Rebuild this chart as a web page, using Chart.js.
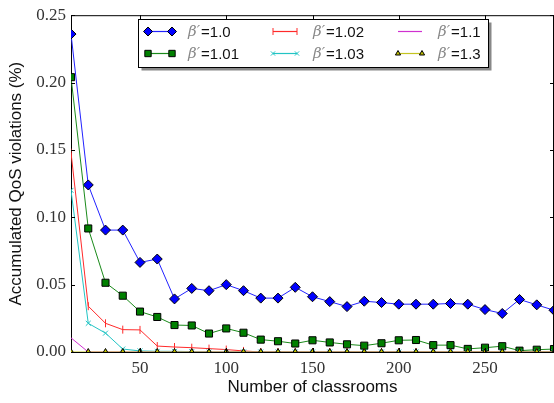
<!DOCTYPE html>
<html>
<head>
<meta charset="utf-8">
<script src="https://cdn.jsdelivr.net/npm/chart.js@4/dist/chart.umd.min.js"></script>
<style>
  html, body { margin: 0; padding: 0; background: #fff; overflow: hidden; }
  #wrap { width: 560px; height: 403px; }
</style>
</head>
<body>
<div id="wrap"><canvas id="chart"></canvas></div>
<script>
const classrooms = [10, 20, 30, 40, 50, 60, 70, 80, 90, 100, 110, 120, 130, 140, 150,
  160, 170, 180, 190, 200, 210, 220, 230, 240, 250, 260, 270, 280, 290];

const beta100 = [0.236, 0.124, 0.0905, 0.0905, 0.0665, 0.069, 0.0394, 0.0472, 0.0455, 0.050,
  0.0455, 0.040, 0.040, 0.048, 0.041, 0.0374, 0.0337, 0.0377, 0.0367, 0.0355,
  0.0355, 0.0355, 0.036, 0.0355, 0.0315, 0.0286, 0.039, 0.035, 0.031];
const beta101 = [0.204, 0.0917, 0.0514, 0.0418, 0.030, 0.026, 0.020, 0.0197, 0.0137, 0.0175,
  0.0143, 0.0092, 0.008, 0.0063, 0.0087, 0.0071, 0.0057, 0.0047, 0.0065, 0.0087,
  0.0089, 0.0051, 0.0051, 0.0023, 0.0032, 0.0043, 0.001, 0.0017, 0.0022];
const beta102 = [0.148, 0.034, 0.0213, 0.0166, 0.0164, 0.0044, 0.0037, 0.0032, 0.0025, 0.0018,
  0.0008, 0, 0, 0, 0, 0, 0, 0, 0, 0, 0, 0, 0, 0, 0, 0, 0, 0, 0];
const beta103 = [0.120, 0.0213, 0.014, 0.0022, 0.0008, 0.0005, 0.0005, 0.0003, 0, 0,
  0, 0, 0, 0, 0, 0, 0, 0, 0, 0, 0, 0, 0, 0, 0, 0, 0, 0, 0];
const beta110 = [0.0105, 0, 0, 0, 0, 0, 0, 0, 0, 0, 0, 0, 0, 0, 0, 0, 0, 0, 0, 0,
  0, 0, 0, 0, 0, 0, 0, 0, 0];
const beta130 = [0, 0, 0, 0, 0, 0, 0, 0, 0, 0, 0, 0, 0, 0, 0, 0, 0, 0, 0, 0,
  0, 0, 0, 0, 0, 0, 0, 0, 0];

const seriesLabels = ["1.0", "1.01", "1.02", "1.03", "1.1", "1.3"];
const xTicks = [50, 100, 150, 200, 250];
const yTicks = [0, 0.05, 0.10, 0.15, 0.20, 0.25];

const styles = [
  { color: "#2222ff", fill: "#0000ff", pointStyle: "rectRot", radius: 5, rotation: 0 },
  { color: "#1a8a1a", fill: "#008000", pointStyle: "rect", radius: 5, rotation: 0 },
  { color: "#ff2a2a", fill: "#ff0000", pointStyle: "line", radius: 4, rotation: 90 },
  { color: "#22c4c4", fill: "#00bfbf", pointStyle: "crossRot", radius: 3.5, rotation: 0 },
  { color: "#d030d0", fill: "#bf00bf", pointStyle: false, radius: 0, rotation: 0 },
  { color: "#c4c420", fill: "#bfbf00", pointStyle: "triangle", radius: 3.5, rotation: 0 }
];
const allValues = [beta100, beta101, beta102, beta103, beta110, beta130];

const datasets = allValues.map((vals, i) => {
  const s = styles[i];
  const markerEdge = (s.pointStyle === "line" || s.pointStyle === "crossRot") ? s.color : "#000";
  return {
    label: "β′=" + seriesLabels[i],
    data: classrooms.map((x, j) => ({ x: x, y: vals[j] })),
    borderColor: s.color,
    backgroundColor: s.fill,
    borderWidth: 1,
    pointStyle: s.pointStyle,
    pointRadius: s.radius,
    pointRotation: s.rotation,
    pointBackgroundColor: s.fill,
    pointBorderColor: markerEdge,
    pointBorderWidth: 1,
    tension: 0,
    clip: 0,
    order: allValues.length - i
  };
});

// matplotlib-style frame: top/right spines and inward ticks
const framePlugin = {
  id: "frame",
  afterDraw(chart) {
    const { ctx, chartArea: a, scales } = chart;
    ctx.save();
    ctx.strokeStyle = "#000";
    ctx.lineWidth = 1;
    ctx.beginPath();
    ctx.moveTo(a.left, a.top + 0.5);
    ctx.lineTo(a.right, a.top + 0.5);
    ctx.moveTo(a.right - 0.5, a.top);
    ctx.lineTo(a.right - 0.5, a.bottom);
    xTicks.forEach(v => {
      const px = Math.round(scales.x.getPixelForValue(v)) + 0.5;
      ctx.moveTo(px, a.top); ctx.lineTo(px, a.top + 4);
      ctx.moveTo(px, a.bottom); ctx.lineTo(px, a.bottom - 4);
    });
    yTicks.forEach(v => {
      const py = Math.round(scales.y.getPixelForValue(v)) + 0.5;
      ctx.moveTo(a.left, py); ctx.lineTo(a.left + 4, py);
      ctx.moveTo(a.right, py); ctx.lineTo(a.right - 4, py);
    });
    ctx.stroke();
    ctx.restore();
  }
};

// legend box laid out in columns like the original
const legendPlugin = {
  id: "colLegend",
  afterDraw(chart) {
    const ctx = chart.ctx;
    const box = { x: 138.5, y: 19.5, w: 350, h: 48 };
    ctx.save();
    ctx.fillStyle = "#888";
    ctx.fillRect(box.x + 3, box.y + 3, box.w, box.h);
    ctx.fillStyle = "#fff";
    ctx.fillRect(box.x, box.y, box.w, box.h);
    ctx.strokeStyle = "#000";
    ctx.lineWidth = 1;
    ctx.strokeRect(box.x, box.y, box.w, box.h);

    const colX = [148, 273, 398];
    const rowY = [31.5, 53.5];
    chart.data.datasets.forEach((ds, i) => {
      const col = Math.floor(i / 2), row = i % 2;
      const x0 = colX[col], y = rowY[row];
      ctx.strokeStyle = ds.borderColor;
      ctx.lineWidth = 1.2;
      ctx.beginPath();
      ctx.moveTo(x0, y);
      ctx.lineTo(x0 + 24, y);
      ctx.stroke();
      if (ds.pointStyle) {
        [x0, x0 + 24].forEach(px => {
          ctx.fillStyle = ds.pointBackgroundColor;
          ctx.strokeStyle = ds.pointBorderColor;
          ctx.lineWidth = 1;
          Chart.helpers.drawPoint(ctx, {
            pointStyle: ds.pointStyle,
            rotation: ds.pointRotation,
            radius: ds.pointStyle === "triangle" ? 3 : ds.pointRadius - 0.5,
            borderWidth: 1
          }, px, y);
        });
      }
      let tx = x0 + 40;
      ctx.textBaseline = "middle";
      ctx.textAlign = "left";
      ctx.fillStyle = "#888";
      ctx.font = "italic 15px 'DejaVu Serif'";
      ctx.fillText("β′", tx, y + 1);
      tx += ctx.measureText("β′").width + 1;
      ctx.fillStyle = "#111";
      ctx.font = "15px 'Liberation Sans'";
      ctx.fillText("=" + seriesLabels[i], tx, y + 1);
    });
    ctx.restore();
  }
};

new Chart(document.getElementById("chart"), {
  type: "line",
  data: { datasets: datasets },
  plugins: [framePlugin, legendPlugin],
  options: {
    responsive: true,
    maintainAspectRatio: false,
    animation: false,
    layout: { padding: { top: 11, right: 6, left: 0, bottom: 0 } },
    plugins: { legend: { display: false }, tooltip: { enabled: false } },
    scales: {
      x: {
        type: "linear",
        min: 10,
        max: 290,
        afterBuildTicks: scale => { scale.ticks = xTicks.map(v => ({ value: v })); },
        afterFit: scale => { scale.height = 51; },
        grid: { display: false, drawTicks: false },
        border: { display: true, color: "#000", width: 1 },
        ticks: {
          color: "#333",
          font: { family: "'Liberation Serif'", size: 17 },
          padding: 6,
          maxRotation: 0
        },
        title: {
          display: true,
          text: "Number of classrooms",
          color: "#111",
          font: { family: "'Liberation Sans'", size: 17 },
          padding: { bottom: 5 }
        }
      },
      y: {
        min: 0,
        max: 0.25,
        afterBuildTicks: scale => { scale.ticks = yTicks.map(v => ({ value: v })); },
        afterFit: scale => { scale.width = 71; },
        grid: { display: false, drawTicks: false },
        border: { display: true, color: "#000", width: 1 },
        ticks: {
          color: "#333",
          font: { family: "'Liberation Serif'", size: 17 },
          padding: 5,
          callback: v => v.toFixed(2)
        },
        title: {
          display: true,
          text: "Accumulated QoS violations (%)",
          color: "#111",
          font: { family: "'Liberation Sans'", size: 17 },
          padding: { top: 6 }
        }
      }
    }
  }
});
</script>
</body>
</html>
